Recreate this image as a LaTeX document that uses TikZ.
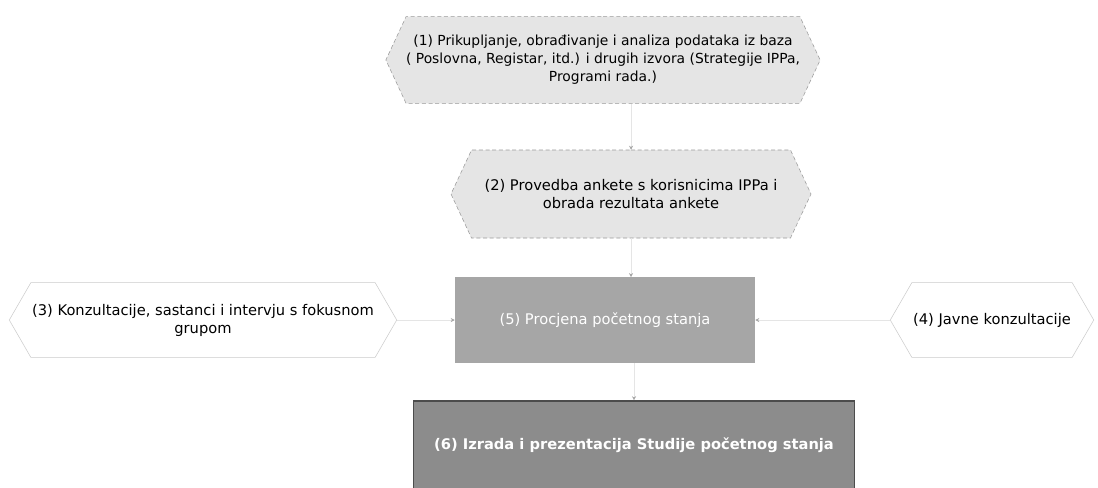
\documentclass[tikz,border=0pt]{standalone}
\usepackage{fontspec}
\setmainfont{DejaVu Sans}
\usetikzlibrary{shapes.symbols,arrows.meta}

\tikzset{
  hexbox/.style={signal, signal to=west and east, inner sep=1pt, align=center,
    font=\fontsize{11}{13.5}\selectfont},
  stepgray/.style={hexbox, fill=gray!20, draw=gray!80, densely dashed, thin},
  stepwhite/.style={hexbox, fill=white, draw=gray!40, thin},
  stepdark/.style={rectangle, align=center, text=white,
    font=\fontsize{11}{13.5}\selectfont},
  link/.style={draw=gray!20, thin, -{Stealth[length=3pt,width=3pt,gray!70]}}
}

\begin{document}
\begin{tikzpicture}[x=0.75pt,y=-0.75pt]
  \useasboundingbox[fill=white] (0,0) rectangle (1098,487);
  % data collection
  \node[stepgray, minimum width=320pt, minimum height=65pt, signal pointer angle=130,
    inner sep=0pt, font=\fontsize{10.4}{13.5}\selectfont]
    (prikupljanje) at (603,60)
    {(1) Prikupljanje, obrađivanje i analiza podataka iz baza\\
     ( Poslovna, Registar, itd.) i drugih izvora (Strategije IPPa,\\
     Programi rada.)};
  % survey
  \node[stepgray, minimum width=270pt, minimum height=66pt, signal pointer angle=130]
    (anketa) at (631,194)
    {(2) Provedba ankete s korisnicima IPPa i\\ obrada rezultata ankete};
  % focus group and public consultation
  \node[stepwhite, minimum width=286pt, minimum height=56pt, signal pointer angle=120]
    (fokus) at (203,320)
    {(3) Konzultacije, sastanci i intervju s fokusnom\\ grupom};
  \node[stepwhite, minimum width=135pt, minimum height=56pt, signal pointer angle=120]
    (javne) at (992,320) {(4) Javne konzultacije};
  % assessment
  \node[stepdark, fill=gray!70, minimum width=225pt, minimum height=64pt]
    (procjena) at (605,320) {(5) Procjena početnog stanja};
  % study
  \node[stepdark, fill=gray!90, draw=black!70, line width=1.2pt,
    minimum width=331pt, minimum height=66pt, font=\fontsize{11}{13.5}\selectfont\bfseries]
    (studija) at (634,445) {(6) Izrada i prezentacija Studije početnog stanja};
  % connectors
  \draw[link] (prikupljanje.south -| anketa.north) -- (anketa.north);
  \draw[link] (anketa.south) -- (anketa.south |- procjena.north);
  \draw[link] (procjena.south -| studija.north) -- (studija.north);
  \draw[link] (fokus.east) -- (procjena.west);
  \draw[link] (javne.west) -- (procjena.east);
\end{tikzpicture}
\end{document}
